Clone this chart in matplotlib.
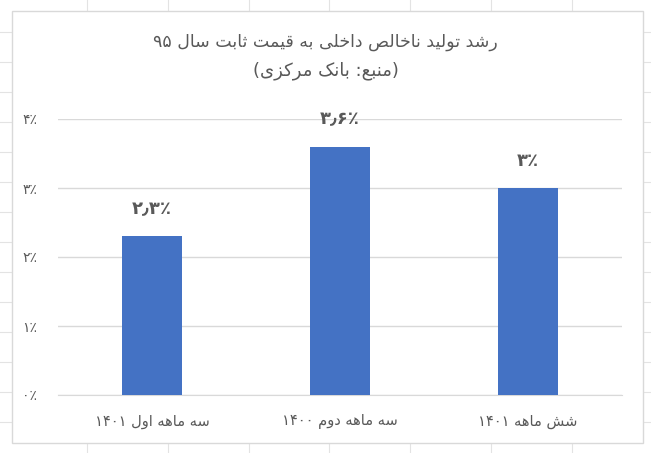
import matplotlib
matplotlib.use("Agg")
import matplotlib.pyplot as plt
from matplotlib.lines import Line2D
from matplotlib.patches import Rectangle

# data (Persian labels, logical order)
title = "رشد تولید ناخالص داخلی به قیمت ثابت سال ۹۵"
subtitle = "(منبع: بانک مرکزی)"
categories = ["سه ماهه اول ۱۴۰۱", "سه ماهه دوم ۱۴۰۰", "شش ماهه ۱۴۰۱"]
values = [2.3, 3.6, 3.0]
value_labels = ["۲٫۳٪", "۳٫۶٪", "۳٪"]
yticks = [0, 1, 2, 3, 4]
ytick_labels = ["۰٪", "۱٪", "۲٪", "۳٪", "۴٪"]

# minimal arabic shaping: base presentation form + number of forms
FORMS = {
    "\u0627": (0xFE8D, 2), "\u0628": (0xFE8F, 4), "\u062A": (0xFE95, 4),
    "\u062B": (0xFE99, 4), "\u062E": (0xFEA5, 4), "\u062F": (0xFEA9, 2),
    "\u0631": (0xFEAD, 2), "\u0632": (0xFEAF, 2), "\u0633": (0xFEB1, 4),
    "\u0634": (0xFEB5, 4), "\u0635": (0xFEB9, 4), "\u0639": (0xFEC9, 4),
    "\u0642": (0xFED5, 4), "\u0644": (0xFEDD, 4), "\u0645": (0xFEE1, 4),
    "\u0646": (0xFEE5, 4), "\u0647": (0xFEE9, 4), "\u0648": (0xFEED, 2),
    "\u06CC": (0xFBFC, 4), "\u06A9": (0xFB8E, 4),
}
DIGITS = set("۰۱۲۳۴۵۶۷۸۹٫")


def fa(s):
    out = []
    for i, ch in enumerate(s):
        if ch not in FORMS:
            out.append(ch)
            continue
        base, n = FORMS[ch]
        prev = s[i - 1] if i > 0 else ""
        nxt = s[i + 1] if i + 1 < len(s) else ""
        pj = prev in FORMS and FORMS[prev][1] == 4
        nj = n == 4 and nxt in FORMS
        if pj and nj:
            out.append(chr(base + 3))
        elif pj:
            out.append(chr(base + 1))
        elif nj:
            out.append(chr(base + 2))
        else:
            out.append(chr(base))
    vis = "".join(out)[::-1]
    vis = vis.translate(str.maketrans("()", ")("))
    # put digit runs back left to right
    res, run = "", ""
    for ch in vis:
        if ch in DIGITS:
            run += ch
        else:
            res += run[::-1] + ch
            run = ""
    return res + run[::-1]


text_color = "#595959"
grid_color = "#D9D9D9"
bar_color = "#4472C4"

W, H = 651, 453
fig = plt.figure(figsize=(W / 100, H / 100), dpi=100)


def fx(px):
    return px / W


def fy(py):
    return 1 - py / H


# spreadsheet cell lines peeking around the chart
for x in [87, 168, 249, 329, 410, 491, 572]:
    fig.add_artist(Line2D([fx(x), fx(x)], [fy(0), fy(11)], color="#E3E3E3", lw=0.8, zorder=-2))
    fig.add_artist(Line2D([fx(x), fx(x)], [fy(443), fy(453)], color="#E3E3E3", lw=0.8, zorder=-2))
for y in [32, 62, 92, 122, 152, 182, 212, 242, 272, 302, 332, 362, 392, 422]:
    fig.add_artist(Line2D([fx(0), fx(12)], [fy(y), fy(y)], color="#E3E3E3", lw=0.8, zorder=-2))
    fig.add_artist(Line2D([fx(643), fx(651)], [fy(y), fy(y)], color="#E3E3E3", lw=0.8, zorder=-2))

fig.add_artist(Rectangle((fx(12), fy(443)), fx(631), 432 / H, fill=True,
                         facecolor="white", edgecolor=grid_color, lw=1, zorder=-1))

ax = fig.add_axes([fx(58), fy(395), fx(564), 276 / H])
ax.set_zorder(1)
x = range(len(categories))
bars = ax.bar(x, values, width=0.315, color=bar_color, zorder=3)

ax.set_ylim(0, 4)
ax.set_xlim(-0.5, len(categories) - 0.5)
ax.set_yticks(yticks)
ax.set_yticklabels(ytick_labels, color=text_color, fontsize=10)
ax.set_xticks(list(x))
ax.set_xticklabels([fa(c) for c in categories], color=text_color, fontsize=10.5)
ax.tick_params(axis="both", length=0)
ax.tick_params(axis="y", pad=15)
ax.tick_params(axis="x", pad=14)
ax.grid(axis="y", color=grid_color, lw=1, zorder=0)
for side in ["top", "right", "left"]:
    ax.spines[side].set_visible(False)
ax.spines["bottom"].set_color(grid_color)
ax.set_facecolor("none")

for b, lab in zip(bars, value_labels):
    ax.annotate(lab, (b.get_x() + b.get_width() / 2, b.get_height()),
                xytext=(0, 13), textcoords="offset points", ha="center",
                va="bottom", fontsize=13, fontweight="bold", color=text_color)

fig.text(0.5, fy(42), fa(title), ha="center", va="center", fontsize=12.5, color=text_color)
fig.text(0.5, fy(71), fa(subtitle), ha="center", va="center", fontsize=13, color=text_color)

fig.savefig("out.png", dpi=100)
